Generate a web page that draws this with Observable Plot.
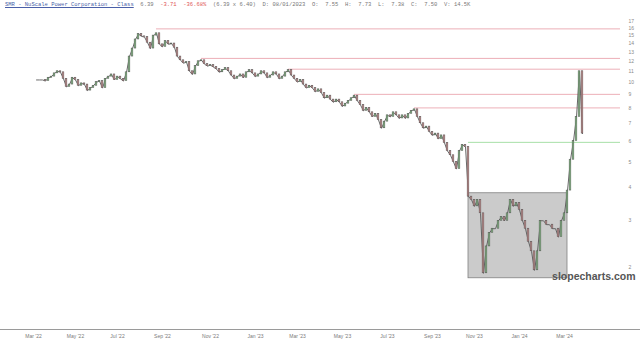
<!DOCTYPE html>
<html><head><meta charset="utf-8">
<script src="https://cdn.jsdelivr.net/npm/d3@7"></script>
<script src="https://cdn.jsdelivr.net/npm/@observablehq/plot@0.6"></script>
<style>
body{margin:0;background:#fff;width:640px;height:343px;overflow:hidden;position:relative;}
#chart{position:absolute;left:0;top:0}
#hdr{position:absolute;left:5px;top:1px;font-family:"Liberation Mono",monospace;font-size:5.5px;color:#777;white-space:pre;}
#hdr .t{color:#4a5fa8;text-decoration:underline}
#hdr .n{color:#e05555}
</style></head><body>
<div id="chart"></div>
<div id="hdr"></div>
<script>
// closing prices, one entry per ~3 trading days
const closes = [
10.2,10.2,10.2,10.1,10.4,10.5,10.8,11.0,10.9,10.3,
9.6,9.8,10.4,10.2,9.7,9.9,9.8,9.3,9.5,9.7,
10.0,10.1,9.5,10.3,10.5,10.7,10.2,10.5,10.3,10.1,
10.9,12.5,13.4,14.5,15.2,14.9,14.8,14.1,13.4,15.0,
15.3,13.9,13.6,14.3,13.9,14.0,13.5,12.5,12.1,11.8,
11.9,11.0,10.7,11.5,12.0,12.1,11.7,11.5,11.6,11.4,
11.2,10.9,11.1,11.3,11.0,10.6,10.3,10.5,10.7,10.4,
10.9,11.1,10.8,10.5,10.7,11.0,10.8,10.4,10.6,10.9,
10.7,10.3,10.5,10.9,11.1,10.6,10.3,10.0,10.2,9.8,
9.5,9.7,9.5,9.2,9.4,9.1,8.7,8.9,8.6,8.4,
8.6,8.4,8.1,8.3,8.5,8.7,8.9,8.5,8.2,7.8,
8.0,7.7,7.4,7.6,7.2,6.7,7.1,7.5,7.4,7.7,
7.5,7.3,7.5,7.3,7.6,7.8,7.9,7.4,7.0,6.7,
6.8,6.5,6.3,6.4,6.1,6.3,5.9,5.5,5.3,5.0,
4.7,5.5,5.8,5.7,3.7,3.6,3.4,3.6,3.2,1.9,
2.4,2.7,2.8,2.8,3.0,3.1,3.0,3.2,3.6,3.4,
3.5,3.3,3.0,2.8,2.5,2.3,1.95,2.3,3.0,3.0,
2.9,2.9,2.8,2.8,2.6,3.0,3.2,3.9,5.1,6.0,
7.4,11.0,6.4
];
// horizontal price levels
const levels = [15.9, 12.3, 11.2, 9.0, 8.0, 5.93];
const levelStart = [40, 55, 84, 106, 126, 144];
const levelKind = ["resistance","resistance","resistance","resistance","resistance","support"];
// shaded consolidation box
const boxIndex = [144, 177];
const boxPrice = [1.82, 3.81];
// axis ticks
const tickIndex = [-1, 13, 27, 42, 58, 73, 87, 102, 117, 132, 146, 161, 176];
const tickLabels = ["Mar '22","May '22","Jul '22","Sep '22","Nov '22","Jan '23","Mar '23","May '23","Jul '23","Sep '23","Nov '23","Jan '24","Mar '24"];
const priceTicks = [2,3,4,5,6,7,8,9,10,11,12,13,14,15,16,17];

const xMin = -12, xEnd = 194.667, xFull = 201.333;
const yMin = 1.166, yMax = 17.86;

const data = closes.map((c, i) => ({i, open: i ? closes[i - 1] : c, close: c}));
const levelData = levels.map((v, k) => ({v, start: levelStart[k], kind: levelKind[k]}));

const chart = Plot.plot({
  width: 640, height: 343,
  marginLeft: 0, marginRight: 20, marginTop: 15, marginBottom: 14,
  style: {fontFamily: "Liberation Sans, sans-serif", background: "#fff"},
  x: {domain: [xMin, xEnd], axis: null},
  y: {type: "log", domain: [yMin, yMax], axis: null},
  marks: [
    Plot.rect([0], {x1: boxIndex[0], x2: boxIndex[1], y1: boxPrice[0], y2: boxPrice[1], fill: "#cbcbcb", stroke: "#808080", strokeWidth: 0.8}),
    Plot.ruleY(levelData, {y: "v", x1: "start", x2: xEnd, stroke: d => d.kind === "support" ? "#9edb9e" : "#eaa6b0", strokeWidth: 0.9}),
    Plot.line(data, {x: "i", y: "close", stroke: "#5a5a5a", strokeWidth: 0.9}),
    Plot.rect(data, {x1: d => d.i - 0.28, x2: d => d.i + 0.28, y1: "open", y2: "close",
      fill: d => d.close >= d.open ? "#86c386" : "#cf8f8f", stroke: "#505050", strokeWidth: 0.5}),
    Plot.text(priceTicks, {x: xEnd, y: d => d, text: d => String(d), dx: 8, textAnchor: "start", fontSize: 5, fill: "#8a8a8a"}),
    Plot.ruleY([yMin], {x1: xMin, x2: xFull, stroke: "#9a9a9a", strokeWidth: 1}),
    Plot.text(tickIndex, {x: d => d, y: yMin, text: (d, k) => tickLabels[k], dy: 7, fontSize: 5, fill: "#7a7a7a"}),
    Plot.text(["slopecharts.com"], {frameAnchor: "bottom-right", dx: 15, dy: -50, textAnchor: "end", lineAnchor: "bottom",
      fontSize: 10.5, fontWeight: "bold", fill: "#555", fontFamily: "Liberation Sans, sans-serif"})
  ]
});
document.getElementById("chart").appendChild(chart);

const hdr = document.getElementById("hdr");
hdr.innerHTML = '<span class="t">SMR - NuScale Power Corporation - Class</span>  6.39  <span class="n">-3.71</span>  <span class="n">-36.68%</span>  (6.39 x 6.40)  D: 08/01/2023  O:  7.55  H:  7.73  L:  7.38  C:  7.50  V: 14.5K';
</script>
</body></html>
